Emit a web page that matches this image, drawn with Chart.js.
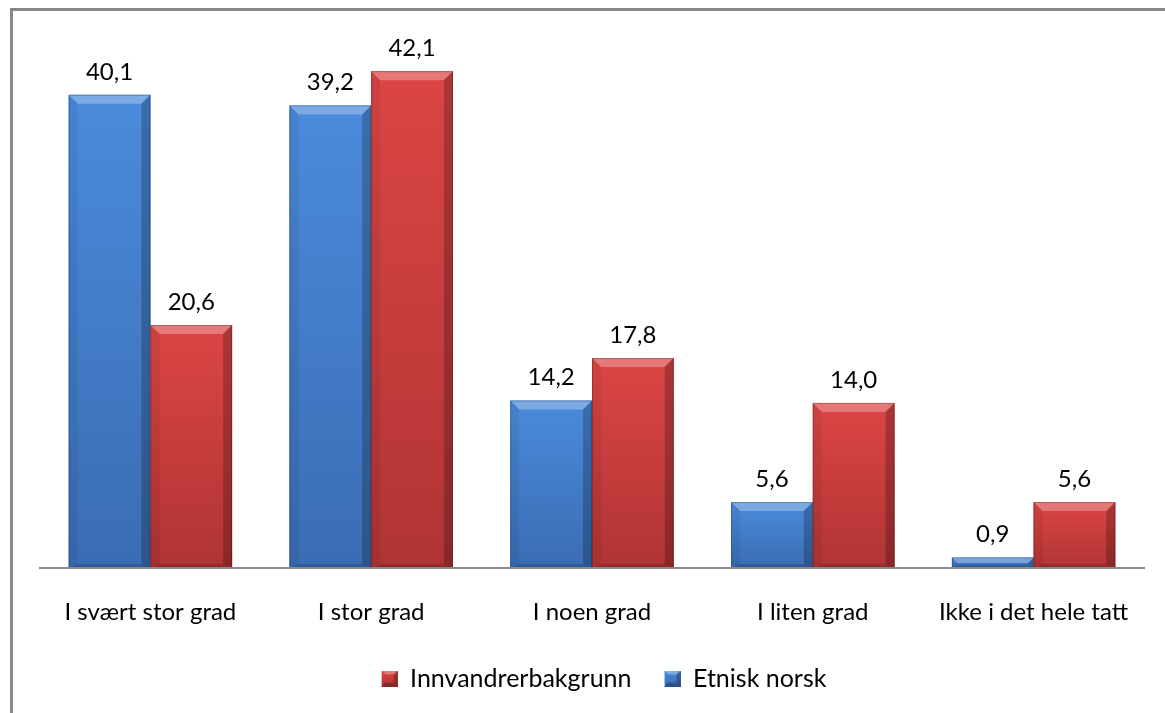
<!DOCTYPE html>
<html>
<head>
<meta charset="utf-8">
<script src="https://cdn.jsdelivr.net/npm/chart.js@4.4.1/dist/chart.umd.min.js"></script>
<style>
  body { margin: 0; background: #fff; }
  #wrap { position: relative; width: 1165px; height: 713px; overflow: hidden; }
  #frame { position: absolute; left: 10px; top: 8px; width: 1200px; height: 800px;
           border-left: 3px solid #888; border-top: 3px solid #888; }
  canvas { position: absolute; left: 0; top: 0; }
</style>
</head>
<body>
<div id="wrap">
  <div id="frame"></div>
  <canvas id="chart" width="1165" height="713"></canvas>
</div>
<script>
var categories = ["I svært stor grad", "I stor grad", "I noen grad", "I liten grad", "Ikke i det hele tatt"];
var etniskNorsk = [40.1, 39.2, 14.2, 5.6, 0.9];
var innvandrer = [20.6, 42.1, 17.8, 14.0, 5.6];

var blue = { top: '#4b8bdb', bottom: '#3a6cb3' };
var red = { top: '#dc4545', bottom: '#b03434' };

var fontFamily = "Lato, 'Open Sans', sans-serif";

// legend marker: transparent gap on the left, small bevelled square on the right
function bevelBox(c) {
    var cv = document.createElement('canvas');
    cv.width = 40; cv.height = 16;
    var g = cv.getContext('2d');
    var x0 = 24;
    var grd = g.createLinearGradient(0, 0, 0, 16);
    grd.addColorStop(0, c.top); grd.addColorStop(1, c.bottom);
    g.fillStyle = grd; g.fillRect(x0, 0, 16, 16);
    g.fillStyle = 'rgba(255,255,255,0.3)';
    g.beginPath(); g.moveTo(x0, 0); g.lineTo(x0 + 16, 0); g.lineTo(x0 + 12, 4); g.lineTo(x0 + 4, 4); g.fill();
    g.fillStyle = 'rgba(0,0,0,0.25)';
    g.beginPath(); g.moveTo(x0 + 16, 0); g.lineTo(x0 + 16, 16); g.lineTo(x0 + 12, 12); g.lineTo(x0 + 12, 4); g.fill();
    g.beginPath(); g.moveTo(x0, 16); g.lineTo(x0 + 16, 16); g.lineTo(x0 + 12, 12); g.lineTo(x0 + 4, 12); g.fill();
    return cv;
}

// bevel look + value labels on top of each bar
var bevelPlugin = {
    id: 'bevel',
    afterDatasetsDraw: function(chart) {
        var ctx = chart.ctx;
        chart.data.datasets.forEach(function(ds, di) {
            var meta = chart.getDatasetMeta(di);
            var c = ds.bevel;
            meta.data.forEach(function(bar, i) {
                var p = bar.getProps(['x', 'y', 'base', 'width'], true);
                var l = p.x - p.width / 2, r = p.x + p.width / 2, t = p.y, b = p.base;
                var bv = Math.min(9, (b - t) / 2);
                var bb = Math.min(4, (b - t) / 2);
                ctx.save();
                var grd = ctx.createLinearGradient(0, t, 0, b);
                grd.addColorStop(0, c.top); grd.addColorStop(1, c.bottom);
                ctx.fillStyle = grd;
                ctx.fillRect(l, t, r - l, b - t);
                // top highlight
                ctx.fillStyle = 'rgba(255,255,255,0.28)';
                ctx.beginPath(); ctx.moveTo(l, t); ctx.lineTo(r, t); ctx.lineTo(r - bv, t + bv); ctx.lineTo(l + bv, t + bv); ctx.closePath(); ctx.fill();
                // left edge
                ctx.fillStyle = 'rgba(0,0,0,0.06)';
                ctx.beginPath(); ctx.moveTo(l, t); ctx.lineTo(l + bv, t + bv); ctx.lineTo(l + bv, b - bb); ctx.lineTo(l, b); ctx.closePath(); ctx.fill();
                // right edge
                ctx.fillStyle = 'rgba(0,0,0,0.22)';
                ctx.beginPath(); ctx.moveTo(r, t); ctx.lineTo(r, b); ctx.lineTo(r - bv, b - bb); ctx.lineTo(r - bv, t + bv); ctx.closePath(); ctx.fill();
                // bottom edge
                ctx.fillStyle = 'rgba(0,0,0,0.18)';
                ctx.beginPath(); ctx.moveTo(l, b); ctx.lineTo(r, b); ctx.lineTo(r - bv, b - bb); ctx.lineTo(l + bv, b - bb); ctx.closePath(); ctx.fill();
                ctx.strokeStyle = 'rgba(0,0,0,0.22)';
                ctx.lineWidth = 1;
                ctx.strokeRect(l + 0.5, t + 0.5, r - l - 1, b - t - 1);
                ctx.fillStyle = '#000';
                ctx.font = '24px ' + fontFamily;
                ctx.textAlign = 'center';
                ctx.textBaseline = 'middle';
                ctx.fillText(ds.data[i].toFixed(1).replace('.', ','), p.x, t - 23);
                ctx.restore();
            });
        });
    }
};

var ctx = document.getElementById('chart');
var chart = new Chart(ctx, {
    type: 'bar',
    data: {
        labels: categories,
        datasets: [{
            label: 'Etnisk norsk',
            data: etniskNorsk,
            backgroundColor: blue.top,
            bevel: blue,
            pointStyle: bevelBox(blue)
        }, {
            label: 'Innvandrerbakgrunn',
            data: innvandrer,
            backgroundColor: red.top,
            bevel: red,
            pointStyle: bevelBox(red)
        }]
    },
    options: {
        responsive: false,
        animation: false,
        layout: { padding: { left: 40, right: 21, top: 37, bottom: 12 } },
        datasets: { bar: { categoryPercentage: 0.74, barPercentage: 1.0 } },
        scales: {
            x: {
                grid: { display: false, drawTicks: false },
                border: { color: '#8a8a8a', width: 2, z: 1 },
                ticks: { color: '#000', font: { family: fontFamily, size: 24 }, padding: 30, maxRotation: 0 }
            },
            y: {
                display: false,
                min: 0,
                max: 45
            }
        },
        plugins: {
            legend: {
                position: 'bottom',
                reverse: true,
                labels: {
                    usePointStyle: true,
                    boxHeight: 16,
                    pointStyleWidth: 40,
                    color: '#000',
                    font: { family: fontFamily, size: 25 },
                    padding: 9
                }
            },
            tooltip: { enabled: false }
        }
    },
    plugins: [bevelPlugin]
});
</script>
</body>
</html>
